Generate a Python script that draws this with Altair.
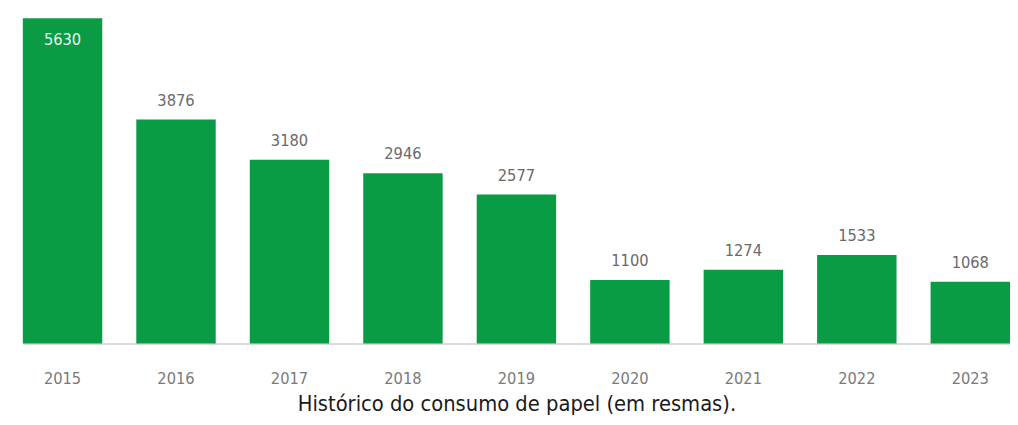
import altair as alt
import pandas as pd

years = ["2015", "2016", "2017", "2018", "2019", "2020", "2021", "2022", "2023"]
values = [5630, 3876, 3180, 2946, 2577, 1100, 1274, 1533, 1068]
inside = [True, False, False, False, False, False, False, False, False]

df = pd.DataFrame({"year": years, "value": values, "inside": inside})

xscale = alt.Scale(domain=years, range=[15, 1014], paddingInner=0.3, paddingOuter=0, round=False)
yscale = alt.Scale(domain=[0, 5767], nice=False, zero=True)

base = alt.Chart(df)

bars = base.mark_bar(color="#0a9b45").encode(
    x=alt.X("year:N", scale=xscale, sort=years,
            axis=alt.Axis(title="Histórico do consumo de papel (em resmas).",
                          labelAngle=0, ticks=False, domain=True,
                          domainColor="#dcdcdc", domainWidth=2,
                          labelColor="#7a7a7a", labelFontSize=16.5,
                          labelFont="DejaVu Sans Condensed", labelPadding=28,
                          titleFont="DejaVu Sans Condensed", titleFontSize=22,
                          titleFontWeight="normal", titleColor="#1a1a1a",
                          titlePadding=6, grid=False)),
    y=alt.Y("value:Q", scale=yscale, axis=None),
)

above = base.transform_filter("!datum.inside").mark_text(
    dy=-11, color="#6a6a6a", fontSize=16.5, font="DejaVu Sans Condensed", baseline="bottom"
).encode(x=alt.X("year:N", scale=xscale, sort=years),
         y=alt.Y("value:Q", scale=yscale, axis=None), text="value:Q")

inner = base.transform_filter("datum.inside").mark_text(
    dy=14, color="#e8f5ec", fontSize=16.5, font="DejaVu Sans Condensed", baseline="top"
).encode(x=alt.X("year:N", scale=xscale, sort=years),
         y=alt.Y("value:Q", scale=yscale, axis=None), text="value:Q")

chart = alt.layer(bars, above, inner).properties(
    width=1008, height=337, padding=0, background="white"
).configure_view(strokeWidth=0, stroke="transparent")

chart.save("out.html", embed_options={"renderer": "svg", "actions": False})
